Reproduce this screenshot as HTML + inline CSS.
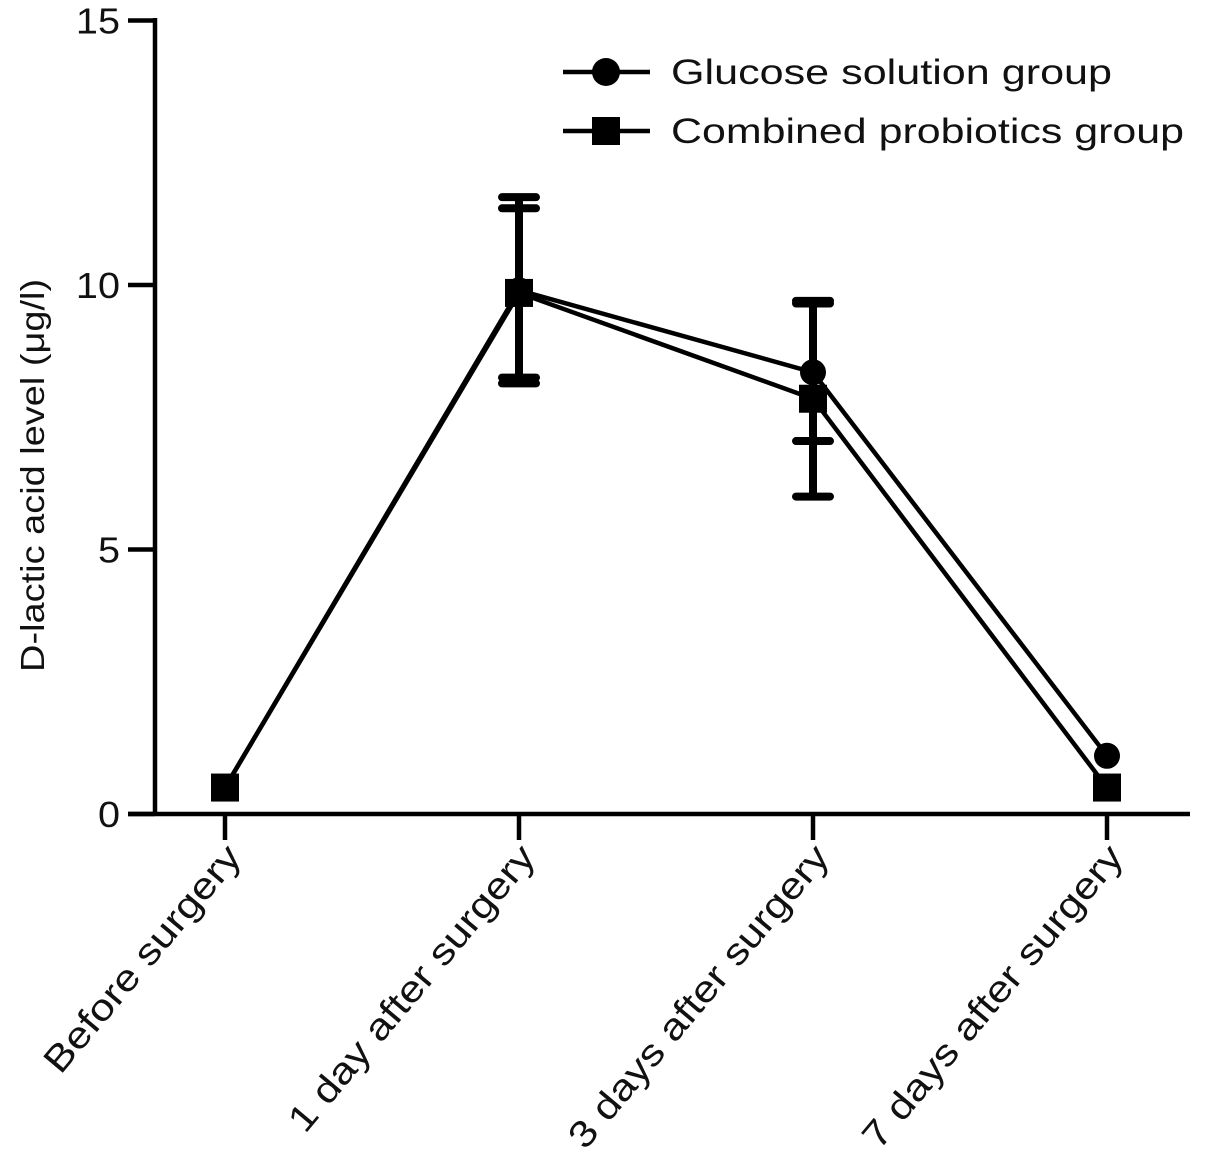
<!DOCTYPE html>
<html><head><meta charset="utf-8"><style>body{margin:0;background:#fff}svg{display:block}text{font-family:"Liberation Sans",Arial,sans-serif;fill:#111}</style></head>
<body>
<svg id="chart" width="1205" height="1168" viewBox="0 0 1205 1168" xmlns="http://www.w3.org/2000/svg"></svg>
<script>
const categories=["Before surgery","1 day after surgery","3 days after surgery","7 days after surgery"];
const glucose=[0.5,9.9,8.35,1.1];
const glucoseErr=[0,1.76,1.3,0];
const combined=[0.5,9.85,7.85,0.5];
const combinedErr=[0,1.6,1.85,0];
const yTicks=[0,5,10,15];
const seriesNames=["Glucose solution group","Combined probiotics group"];

const NS="http://www.w3.org/2000/svg";
const svg=document.getElementById('chart');
const X0=225,DX=294,Y0=814,YS=52.9;
const xs=i=>X0+i*DX, ys=v=>Y0-v*YS;
function mk(t,a,p){const e=document.createElementNS(NS,t);for(const k in a)e.setAttribute(k,a[k]);(p||svg).appendChild(e);return e;}
function widen(t,k){const w=t.getComputedTextLength();t.setAttribute('textLength',w*k);t.setAttribute('lengthAdjust','spacingAndGlyphs');}
const S={stroke:"#000","stroke-width":4.5,fill:"none"};
let ax=mk('line',Object.assign({x1:155,y1:18,x2:155,y2:Y0+2},S));


ax=mk('line',Object.assign({x1:128,y1:Y0,x2:1190,y2:Y0},S));


yTicks.forEach(v=>{
 const l=mk('line',Object.assign({x1:128,y1:ys(v),x2:155,y2:ys(v)},S));
 
 
 const t=mk('text',{x:120,y:ys(v)+13,"text-anchor":"end","font-size":36});
 t.textContent=v;
 
 
 widen(t,1.1);
});
categories.forEach((c,i)=>{
 const l=mk('line',Object.assign({x1:xs(i),y1:Y0,x2:xs(i),y2:Y0+26},S));
 
 
 const t=mk('text',{x:0,y:0,"text-anchor":"end","font-size":37,transform:`translate(${xs(i)+18},${Y0+44}) rotate(-50)`});
 t.textContent=c;
 
 
 widen(t,1.17);
});
const yt=mk('text',{x:0,y:0,"text-anchor":"middle","font-size":33,transform:`translate(44,${ys(6.4)}) rotate(-90)`});
yt.textContent="D-lactic acid level (μg/l)";


widen(yt,1.15);

function series(vals,errs,shape,name){
 const g=mk('g',{});
 
 
 mk('polyline',Object.assign({points:vals.map((v,i)=>xs(i)+','+ys(v)).join(' ')},S,{"stroke-width":4.5}),g);
 vals.forEach((v,i)=>{
  if(errs[i]>0){
   const hi=ys(v+errs[i]),lo=ys(v-errs[i]);
   const e=mk('path',{d:`M${xs(i)},${hi}V${lo}M${xs(i)-17},${hi}H${xs(i)+17}M${xs(i)-17},${lo}H${xs(i)+17}`,stroke:"#000","stroke-width":8,"stroke-linecap":"round",fill:"none"},g);
   
   
  }
  let m;
  if(shape==='c') m=mk('circle',{cx:xs(i),cy:ys(v),r:13,fill:"#000"},g);
  else m=mk('rect',{x:xs(i)-14,y:ys(v)-14,width:28,height:28,fill:"#000"},g);
  
  
 });
}
series(glucose,glucoseErr,'c','glucose-series');
series(combined,combinedErr,'s','combined-series');

[[0,72,'c',441],[1,131,'s',513]].forEach(([k,y,sh,w])=>{
 const g=mk('g',{});
 
 
 mk('line',Object.assign({x1:563,y1:y,x2:650,y2:y},S),g);
 if(sh==='c') mk('circle',{cx:606,cy:y,r:14,fill:"#000"},g);
 else mk('rect',{x:592,y:y-14,width:28,height:28,fill:"#000"},g);
 const t=mk('text',{x:671,y:y+12,"font-size":35,textLength:w,lengthAdjust:"spacingAndGlyphs"},g);
 t.textContent=seriesNames[k];
});
</script>
</body></html>
